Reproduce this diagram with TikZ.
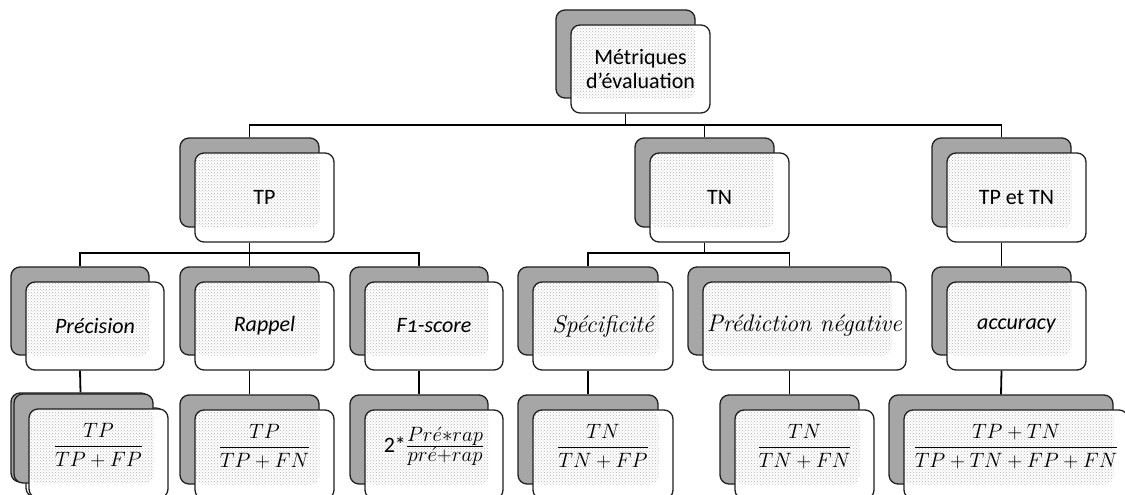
\documentclass[tikz,border=0pt]{standalone}
\usepackage{fontspec}
\setsansfont{Carlito}
\usetikzlibrary{patterns,calc}
\definecolor{cardgray}{HTML}{A6A6A6}
\definecolor{edge}{HTML}{1F1F1F}
\tikzset{
  backcard/.style={draw=edge, line width=1.3pt, fill=cardgray, rounded corners=9pt, inner sep=0pt},
  frontcard/.style={draw=edge, line width=1.3pt, fill=white, rounded corners=9pt, inner sep=0pt,
    align=center, font=\fontsize{22}{24}\selectfont\sffamily},
  texture/.style={pattern=crosshatch dots, pattern color=black!30},
  link/.style={draw=black, line width=1.8pt},
}
% \card[front options]{name}{x}{y}{width}{height}{text}
% draws a grey back card at (x,y) and a white front card offset by (15,15)
\newcommand\card[7][]{%
  \node[backcard, minimum width=#5pt, minimum height=#6pt] (#2-b) at (#3+#5/2, #4+#6/2) {};
  \node[frontcard, minimum width=#5pt, minimum height=#6pt,
    path picture={\fill[texture] (path picture bounding box.north west) rectangle (#2-b.south east);},
    #1] (#2) at ($(#2-b.center)+(15,15)$) {#7};
}
% extra depth lifts the content above the centre of the card
\newcommand\lifted[1]{\raisebox{0pt}[\height][\dimexpr\depth+16pt\relax]{#1}}
\newcommand\formula[1]{\lifted{$\displaystyle #1$}}
\newcommand\serifit[1]{{\fontsize{24}{26}\selectfont\rmfamily\itshape #1}}
\begin{document}
\begin{tikzpicture}[x=1pt, y=-1pt]
\useasboundingbox (0,0) rectangle (1125,495);
\clip (0,0) rectangle (1125,495);
\fill[white] (0,0) rectangle (1125,495);

% top level
\card{root}{556}{10}{139}{88}{Métriques\\d’évaluation}

% second level
\card{tp}{180}{138}{139}{89}{TP}
\card{tn}{635}{138}{139}{89}{TN}
\card{tptn}{932}{138}{139}{89}{TP et TN}

% metric names
\card{prec}{11}{267}{138}{88}{\itshape Précision}
\card{rapp}{180}{267}{139}{88}{\itshape Rappel}
\card{fone}{350}{267}{138}{88}{\itshape F{\addfontfeature{Numbers=OldStyle}1}-score}
\card{spec}{518}{267}{140}{88}{\serifit{Spécificité}}
\card{pneg}{688}{267}{203}{88}{\serifit{Prédiction négative}}
\card{acc}{932}{267}{139}{88}{\itshape accuracy}

% formulas (the first one sits on a second, slightly shifted copy)
\node[backcard, minimum width=139pt, minimum height=89pt] (precf-g) at (11+69.5, 393+44.5) {};
\node[backcard, fill=white, minimum width=139pt, minimum height=89pt] (precf-gf) at (26+69.5, 408+44.5) {};
\card{precf}{14}{394}{139}{89}{\formula{\frac{TP}{TP+FP}}}
\card{rappf}{180}{395}{139}{89}{\formula{\frac{TP}{TP+FN}}}
\card{fonef}{350}{395}{138}{89}{\lifted{2*{\fontsize{29}{30}\selectfont$\frac{Pr\acute{e}\ast rap}{pr\acute{e}+rap}$}}}
\card{specf}{518}{395}{140}{89}{\formula{\frac{TN}{TN+FP}}}
\card{pnegf}{720}{395}{139}{89}{\formula{\frac{TN}{TN+FN}}}
\card{accf}{889}{395}{224}{89}{\formula{\frac{TP+TN}{TP+TN+FP+FN}}}

% connectors
\coordinate (bar0) at (0,125);
\coordinate (bar1) at (0,253);
\draw[link] (root-b.center |- root.south) -- (root-b.center |- bar0) -| (tp-b.north);
\draw[link] (root-b.center |- bar0) -| (tn-b.north);
\draw[link] (root-b.center |- bar0) -| (tptn-b.north);

\draw[link] (tp-b.center |- tp.south) -- (tp-b.center |- bar1) -| (prec-b.north);
\draw[link] (tp-b.center |- bar1) -| (fone-b.north);
\draw[link] (tp-b.center |- bar1) -- (rapp-b.north);

\draw[link] (tn-b.center |- tn.south) -- (tn-b.center |- bar1) -| (spec-b.north);
\draw[link] (tn-b.center |- bar1) -| (pneg-b.north);

\draw[link] (tptn-b.center |- tptn.south) -- (acc-b.north);

\draw[link] (prec-b.center |- prec.south) -- (precf-g.north);
\draw[link] (rapp-b.center |- rapp.south) -- (rappf-b.north);
\draw[link] (fone-b.center |- fone.south) -- (fonef-b.north);
\draw[link] (spec-b.center |- spec.south) -- (specf-b.north);
\draw[link] (pneg-b.center |- pneg.south) -- (pnegf-b.north);
\draw[link] (acc-b.center |- acc.south) -- (accf-b.north);
\end{tikzpicture}
\end{document}
